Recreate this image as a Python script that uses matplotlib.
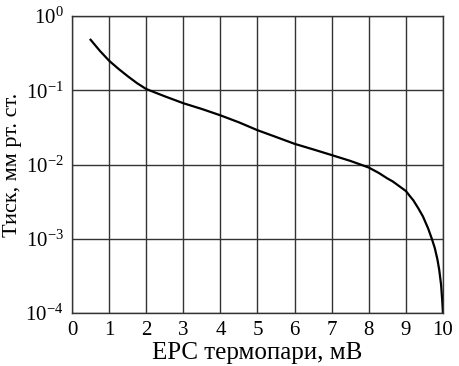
import matplotlib
matplotlib.use('Agg')
import matplotlib.pyplot as plt
from matplotlib.ticker import FixedLocator, NullLocator

plt.rcParams['font.family'] = ['Liberation Serif', 'DejaVu Serif']
plt.rcParams['mathtext.fontset'] = 'custom'
plt.rcParams['mathtext.rm'] = 'Liberation Serif'

# крива: ЕРС термопари (мВ) та тиск (мм рт. ст.)
emf = [0.5, 0.75, 1.0, 1.25, 1.5, 1.75, 2.0, 2.5, 3.0, 3.5, 4.0, 4.5, 5.0, 5.5, 6.0,
       6.5, 7.0, 7.5, 7.8, 8.0, 8.27, 8.5, 8.65, 8.8, 9.0, 9.1, 9.2, 9.33, 9.46,
       9.6, 9.7, 9.78, 9.85, 9.9, 9.95, 9.98, 10.0]
pressure = [0.48, 0.34, 0.25, 0.195, 0.155, 0.125, 0.104, 0.083, 0.067, 0.056, 0.046,
            0.037, 0.029, 0.0235, 0.019, 0.016, 0.0134, 0.0112, 0.0099, 0.0091,
            0.0077, 0.0065, 0.0059, 0.0052, 0.0044, 0.0038, 0.0033, 0.0026, 0.0020,
            0.00138, 0.00100, 0.00075, 0.00053, 0.00038, 0.00024, 0.00015, 0.0001]

x_ticks = list(range(0, 11))
y_ticks = [1e-4, 1e-3, 1e-2, 1e-1, 1e0]
y_labels = [r'$\mathregular{10^{-4}}$', r'$\mathregular{10^{-3}}$', r'$\mathregular{10^{-2}}$',
            r'$\mathregular{10^{-1}}$', r'$\mathregular{10^{0}}$']

fig = plt.figure(figsize=(4.59, 3.66), dpi=100)
ax = fig.add_axes([0.157, 0.145, 0.808, 0.811])

ax.plot(emf, pressure, color='black', linewidth=1.6)
ax.set_yscale('log')
ax.set_xlim(0, 10)
ax.set_ylim(1e-4, 1)

ax.xaxis.set_major_locator(FixedLocator(x_ticks))
ax.yaxis.set_major_locator(FixedLocator(y_ticks))
ax.yaxis.set_minor_locator(NullLocator())
ax.set_yticklabels(y_labels)
ax.tick_params(length=0, labelsize=15, pad=6)
ax.grid(True, color='#333333', linewidth=1.0)

for s in ax.spines.values():
    s.set_color('#333333')
    s.set_linewidth(1.0)

ax.set_xlabel('ЕРС термопари, мВ', fontsize=18)
ax.set_ylabel('Тиск, мм рт. ст.', fontsize=16)
ax.xaxis.set_label_coords(0.5, -0.097)
ax.yaxis.set_label_coords(-0.135, 0.5)

fig.savefig('out.png', dpi=100)
